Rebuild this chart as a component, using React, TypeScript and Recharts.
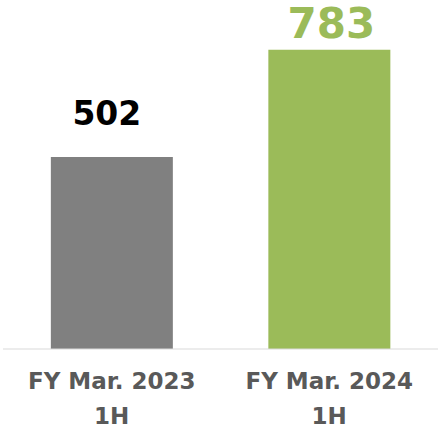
import React from 'react';
import { BarChart, Bar, XAxis, YAxis, Cell, LabelList } from 'recharts';

// Half-year periods and values
const periods = ['FY Mar. 2023', 'FY Mar. 2024'];
const halves = ['1H', '1H'];
const values = [502, 783];

const barColors = ['#808080', '#9BBB59'];
const labelColors = ['#000000', '#9BBB59'];
const labelSizes = [33, 42];
const labelGaps = [32, 12];
const labelShift = [-5, 2];

const FONT = '"DejaVu Sans", Verdana, sans-serif';

const data = periods.map((p, i) => ({ name: p, sub: halves[i], value: values[i] }));

const ValueLabel = (props: any) => {
  const { x, y, width, value, index } = props;
  return (
    <text
      x={x + width / 2 + labelShift[index]}
      y={y - labelGaps[index]}
      textAnchor="middle"
      fontFamily={FONT}
      fontWeight="bold"
      fontSize={labelSizes[index]}
      fill={labelColors[index]}
    >
      {value}
    </text>
  );
};

const PeriodTick = (props: any) => {
  const { x, y, payload, index } = props;
  return (
    <text
      x={x}
      y={y}
      textAnchor="middle"
      fontFamily={FONT}
      fontWeight="bold"
      fontSize={23}
      fill="#595959"
    >
      <tspan x={x} dy={40}>{payload.value}</tspan>
      <tspan x={x} dy={35}>{data[index]?.sub}</tspan>
    </text>
  );
};

export default function App() {
  return (
    <div style={{ position: 'absolute', left: 0, top: 0, background: '#fff' }}>
      <BarChart
        width={439}
        height={430}
        data={data}
        margin={{ top: 5, right: 1, left: 3, bottom: 0 }}
        barCategoryGap="22%"
      >
        <XAxis
          dataKey="name"
          axisLine={{ stroke: '#D9D9D9', strokeWidth: 1 }}
          tickLine={false}
          tickSize={0}
          tickMargin={0}
          height={81}
          interval={0}
          tick={<PeriodTick />}
        />
        <YAxis hide domain={[0, 900]} />
        <Bar dataKey="value" isAnimationActive={false}>
          {data.map((d, i) => (
            <Cell key={d.name} fill={barColors[i]} />
          ))}
          <LabelList dataKey="value" content={<ValueLabel />} />
        </Bar>
      </BarChart>
    </div>
  );
}
